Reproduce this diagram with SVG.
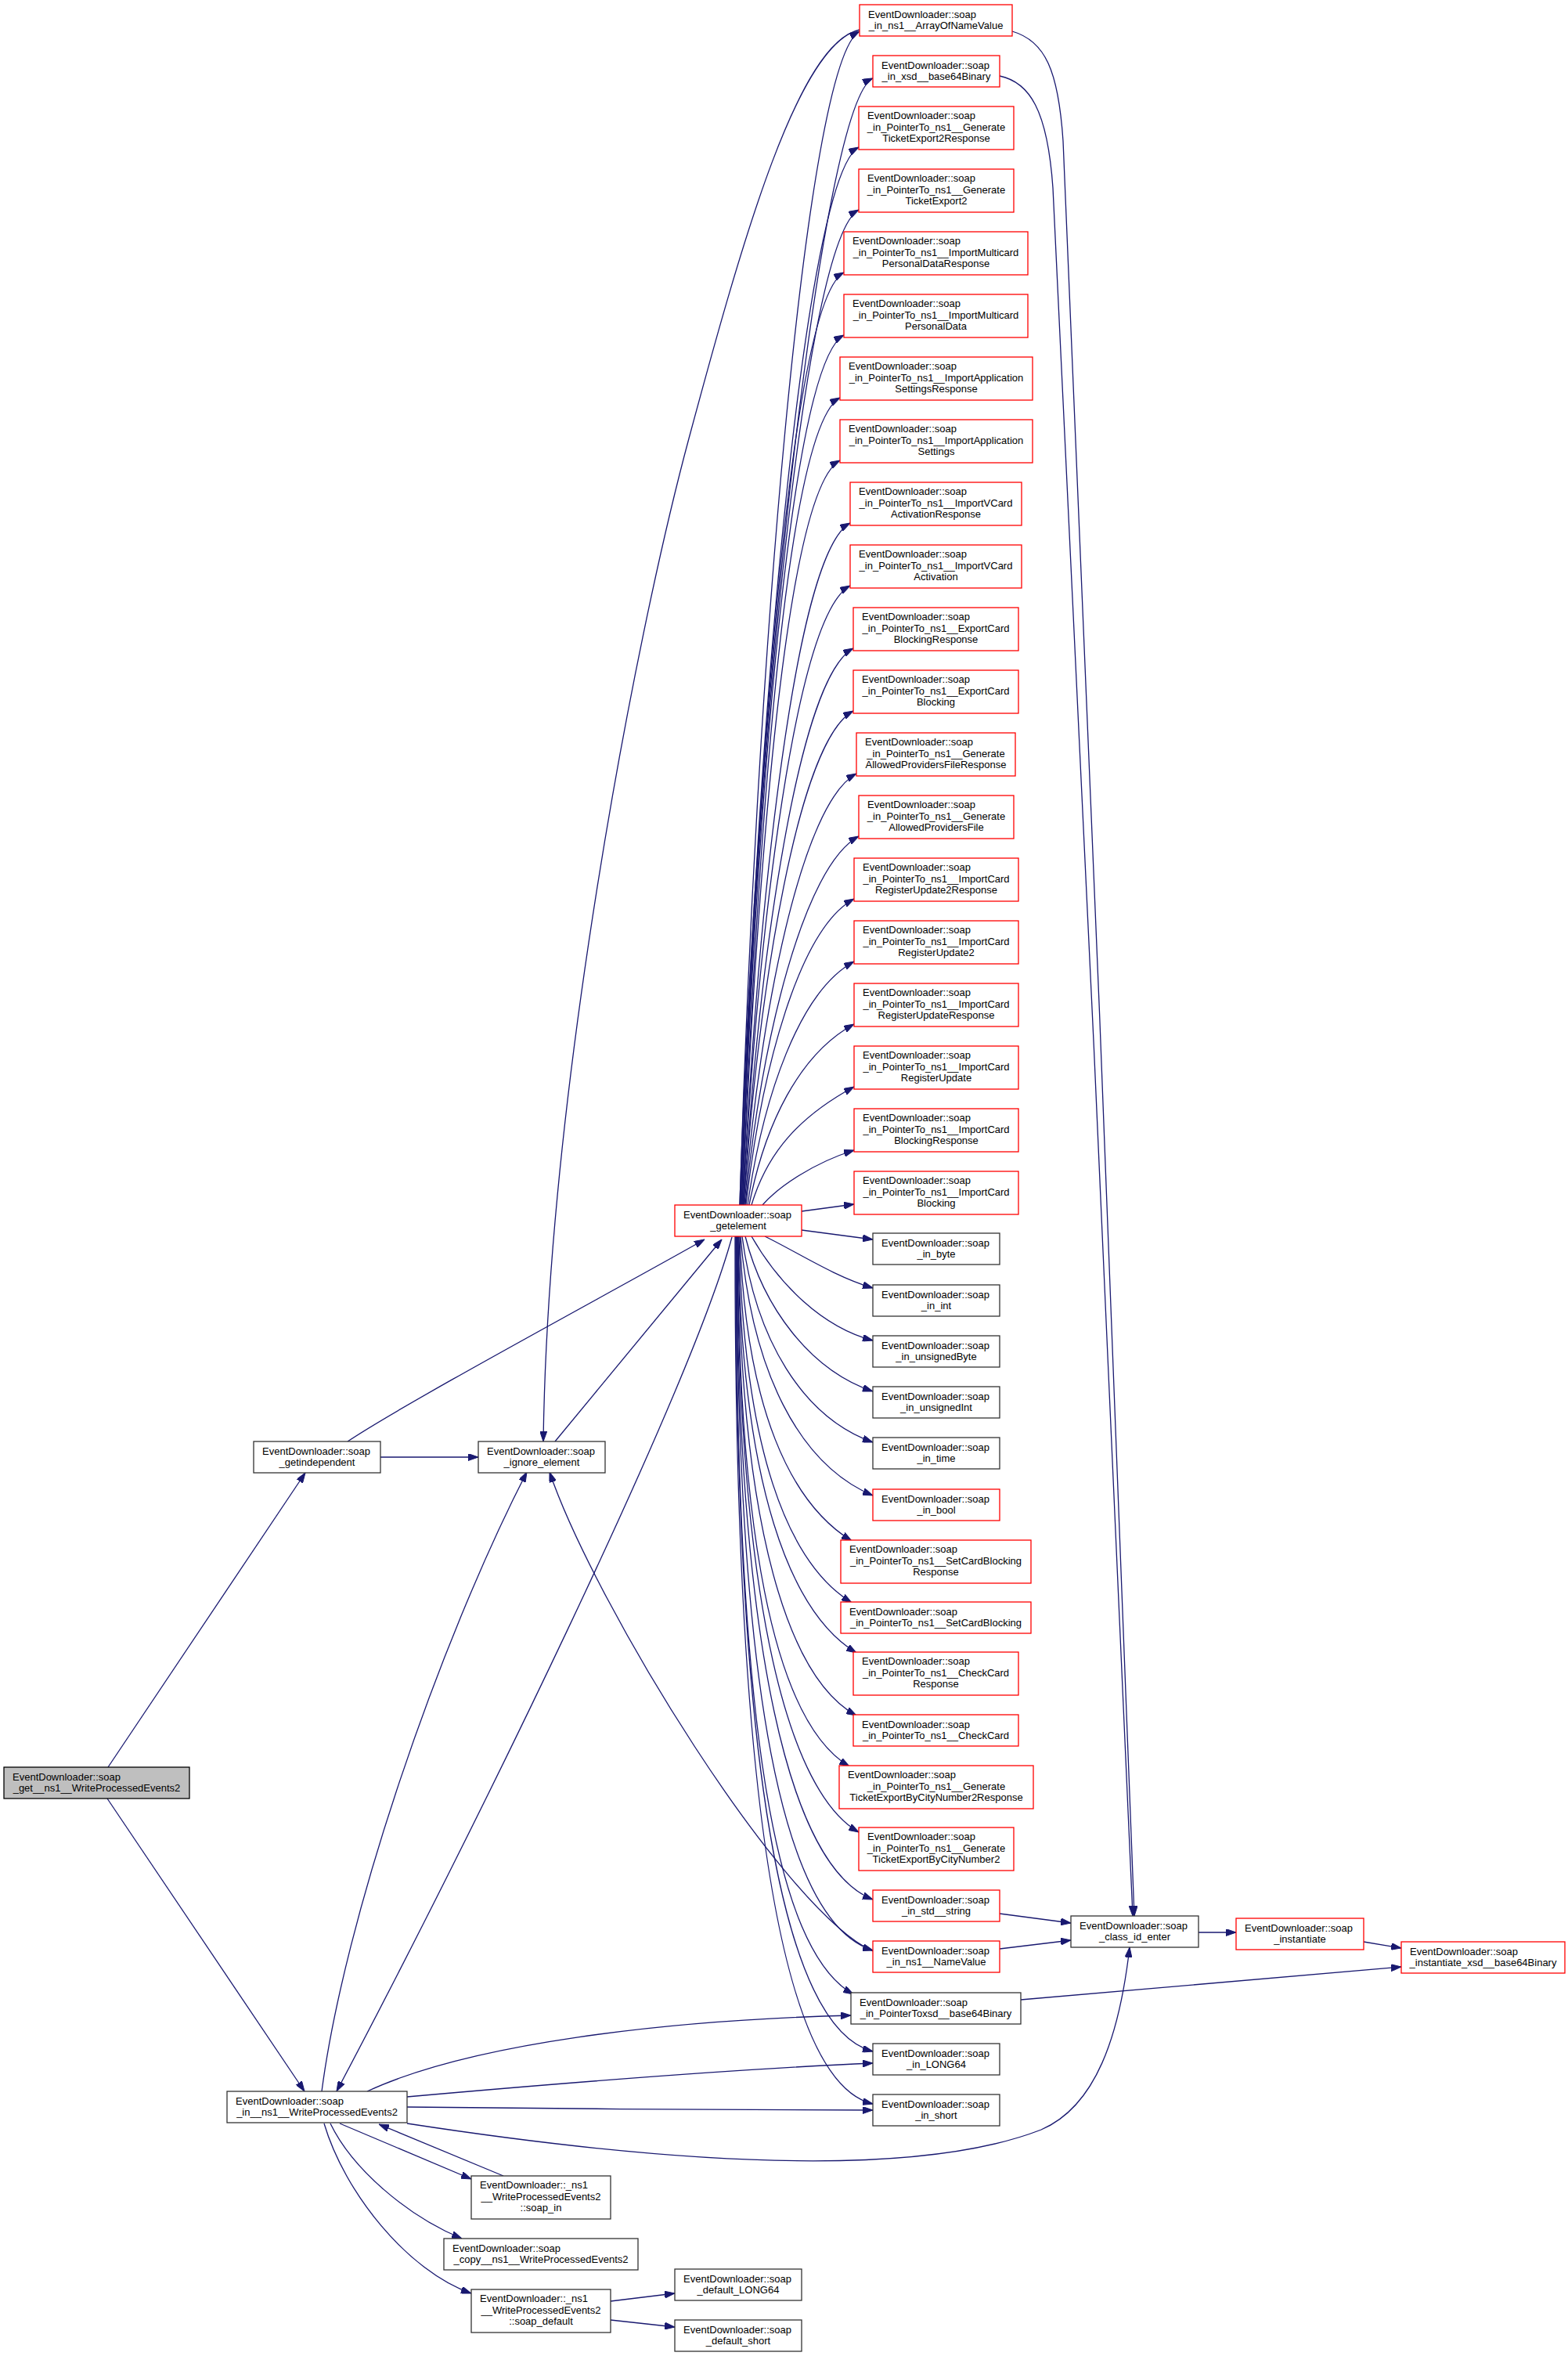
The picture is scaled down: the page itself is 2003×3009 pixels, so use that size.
<svg xmlns="http://www.w3.org/2000/svg" width="2003" height="3009" viewBox="0 0 2003 3009">
<defs>
<marker id="ah" viewBox="0 0 13 9" refX="13" refY="4.5" markerWidth="13" markerHeight="9" orient="auto" markerUnits="userSpaceOnUse"><path d="M0,0 L13,4.5 L0,9 z" fill="#191970" stroke="#191970" stroke-width="1"/></marker>
</defs>
<style>
.e{fill:none;stroke:#191970;stroke-width:1.3;marker-end:url(#ah)}
.n{fill:#fff;stroke:#333;stroke-width:1.3}
.r{fill:#fff;stroke:#f00;stroke-width:1.3}
.root{fill:#bfbfbf;stroke:#000;stroke-width:1.3}
text{font-family:"Liberation Sans",Arial,Helvetica,sans-serif;font-size:13px;fill:#000}
.m{text-anchor:middle}
</style>
<rect width="2003" height="3009" fill="#fff"/>
<g id="edges">
<path class="e" d="M138,2257 L390,1881"/>
<path class="e" d="M137,2297 L389,2671"/>
<path class="e" d="M486,1861 L611,1861"/>
<path class="e" d="M444,1841 C520,1790 800,1640 900,1583"/>
<path class="e" d="M709,1841 L922,1583"/>
<path class="e" d="M1098,38 C1020,55 950,300 880,560 C810,820 700,1400 694,1841"/>
<path class="e" d="M1115,2492 C1000,2440 760,2050 702,1880"/>
<path class="e" d="M411,2671 C440,2450 560,2100 673,1880"/>
<path class="e" d="M935,1580 C880,1780 600,2350 430,2671"/>
<path class="e" d="M1293,40 C1335,52 1352,90 1358,180 C1375,600 1440,2100 1449,2447"/>
<path class="e" d="M1277,97 C1315,105 1338,140 1345,240 C1362,620 1436,2100 1447,2447"/>
<path class="e" d="M945,1539 C965,867 1028,78 1098,40"/>
<path class="e" d="M945,1539 C965,896 1050,130 1115,100"/>
<path class="e" d="M946,1539 C966,932 1027,226 1097,188"/>
<path class="e" d="M946,1539 C966,968 1027,306 1097,268"/>
<path class="e" d="M947,1539 C967,1004 1008,386 1078,348"/>
<path class="e" d="M947,1539 C967,1040 1008,466 1078,428"/>
<path class="e" d="M948,1539 C968,1076 1003,546 1073,508"/>
<path class="e" d="M948,1539 C968,1112 1003,626 1073,588"/>
<path class="e" d="M949,1539 C969,1148 1016,706 1086,668"/>
<path class="e" d="M949,1539 C969,1184 1016,786 1086,748"/>
<path class="e" d="M950,1539 C970,1220 1020,866 1090,828"/>
<path class="e" d="M950,1539 C970,1256 1020,946 1090,908"/>
<path class="e" d="M951,1539 C971,1292 1024,1026 1094,988"/>
<path class="e" d="M952,1539 C972,1328 1027,1106 1097,1068"/>
<path class="e" d="M953,1539 C973,1364 1021,1186 1091,1148"/>
<path class="e" d="M955,1539 C975,1400 1021,1266 1091,1228"/>
<path class="e" d="M957,1539 C977,1436 1021,1346 1091,1308"/>
<path class="e" d="M960,1539 C980,1472 1021,1426 1091,1388"/>
<path class="e" d="M974,1539 C995,1515 1040,1485 1091,1469"/>
<path class="e" d="M1024,1547 L1091,1538"/>
<path class="e" d="M1024,1571 L1115,1583"/>
<path class="e" d="M977,1579 C1020,1600 1065,1630 1115,1645"/>
<path class="e" d="M960,1579 C995,1640 1050,1695 1115,1712"/>
<path class="e" d="M952,1579 C975,1670 1035,1750 1115,1777"/>
<path class="e" d="M948,1579 C965,1710 1025,1810 1115,1842"/>
<path class="e" d="M946,1579 C960,1750 1020,1870 1115,1910"/>
<path class="e" d="M945,1579 C953,1800 1010,1920 1088,1968"/>
<path class="e" d="M944,1579 C950,1850 1005,1995 1088,2047"/>
<path class="e" d="M943,1579 C947,1900 1010,2060 1094,2111"/>
<path class="e" d="M943,1579 C945,1960 1010,2145 1094,2191"/>
<path class="e" d="M942,1579 C944,2010 1000,2205 1085,2256"/>
<path class="e" d="M942,1579 C943,2060 1010,2290 1097,2340"/>
<path class="e" d="M941,1579 C942,2110 1010,2385 1115,2426"/>
<path class="e" d="M941,1579 C941,2160 1000,2455 1115,2491"/>
<path class="e" d="M940,1579 C940,2210 990,2490 1090,2547"/>
<path class="e" d="M940,1579 C939,2260 1000,2590 1115,2620"/>
<path class="e" d="M939,1579 C938,2310 1000,2660 1115,2687"/>
<path class="e" d="M1277,2444 L1368,2456"/>
<path class="e" d="M1277,2489 L1368,2478"/>
<path class="e" d="M1304,2554 L1790,2512"/>
<path class="e" d="M1531,2468 L1579,2468"/>
<path class="e" d="M1742,2480 L1790,2488"/>
<path class="e" d="M469,2671 C600,2610 850,2580 1087,2574"/>
<path class="e" d="M520,2678 C700,2662 950,2642 1115,2635"/>
<path class="e" d="M520,2691 C700,2693 950,2695 1115,2695"/>
<path class="e" d="M520,2712 C800,2755 1150,2790 1330,2720 C1400,2690 1430,2600 1443,2487"/>
<path class="e" d="M434,2712 L602,2783"/>
<path class="e" d="M643,2779 L484,2713"/>
<path class="e" d="M422,2712 C450,2770 520,2830 590,2859"/>
<path class="e" d="M414,2712 C440,2800 520,2900 602,2929"/>
<path class="e" d="M780,2939 L862,2929"/>
<path class="e" d="M780,2963 L862,2972"/>
</g>
<g id="node-get-ns1-WriteProcessedEvents2"><rect class="root" x="5" y="2257" width="237" height="40"/><text x="16" y="2273.5">EventDownloader::soap</text><text class="m" x="123.5" y="2288">_get__ns1__WriteProcessedEvents2</text></g>
<g id="node-getindependent"><rect class="n" x="324" y="1841" width="162" height="40"/><text x="335" y="1857.5">EventDownloader::soap</text><text class="m" x="405" y="1872">_getindependent</text></g>
<g id="node-ignore-element"><rect class="n" x="611" y="1841" width="162" height="40"/><text x="622" y="1857.5">EventDownloader::soap</text><text class="m" x="692" y="1872">_ignore_element</text></g>
<g id="node-getelement"><rect class="r" x="862" y="1539" width="162" height="40"/><text x="873" y="1555.5">EventDownloader::soap</text><text class="m" x="943" y="1570">_getelement</text></g>
<g id="node-in-ns1-WriteProcessedEvents2"><rect class="n" x="290" y="2671" width="230" height="40"/><text x="301" y="2687.5">EventDownloader::soap</text><text class="m" x="405" y="2702">_in__ns1__WriteProcessedEvents2</text></g>
<g id="node-ns1-soap-in"><rect class="n" x="602" y="2779" width="178" height="55"/><text x="613" y="2795">EventDownloader::_ns1</text><text class="m" x="691" y="2809.5">__WriteProcessedEvents2</text><text class="m" x="691" y="2824">::soap_in</text></g>
<g id="node-soap-copy"><rect class="n" x="567" y="2859" width="248" height="40"/><text x="578" y="2875.5">EventDownloader::soap</text><text class="m" x="691" y="2890">_copy__ns1__WriteProcessedEvents2</text></g>
<g id="node-ns1-soap-default"><rect class="n" x="602" y="2924" width="178" height="55"/><text x="613" y="2940">EventDownloader::_ns1</text><text class="m" x="691" y="2954.5">__WriteProcessedEvents2</text><text class="m" x="691" y="2969">::soap_default</text></g>
<g id="node-default-LONG64"><rect class="n" x="862" y="2898" width="162" height="40"/><text x="873" y="2914.5">EventDownloader::soap</text><text class="m" x="943" y="2929">_default_LONG64</text></g>
<g id="node-default-short"><rect class="n" x="862" y="2963" width="162" height="40"/><text x="873" y="2979.5">EventDownloader::soap</text><text class="m" x="943" y="2994">_default_short</text></g>
<g id="node-class-id-enter"><rect class="n" x="1368" y="2447" width="163" height="40"/><text x="1379" y="2463.5">EventDownloader::soap</text><text class="m" x="1449.5" y="2478">_class_id_enter</text></g>
<g id="node-instantiate"><rect class="r" x="1579" y="2450" width="163" height="40"/><text x="1590" y="2466.5">EventDownloader::soap</text><text class="m" x="1660.5" y="2481">_instantiate</text></g>
<g id="node-instantiate-xsd-base64Binary"><rect class="r" x="1790" y="2480" width="209" height="40"/><text x="1801" y="2496.5">EventDownloader::soap</text><text class="m" x="1894.5" y="2511">_instantiate_xsd__base64Binary</text></g>
<g id="node-c1"><rect class="r" x="1098" y="6" width="195" height="40"/><text x="1109" y="22.5">EventDownloader::soap</text><text class="m" x="1195.5" y="37">_in_ns1__ArrayOfNameValue</text></g>
<g id="node-c2"><rect class="r" x="1115" y="71" width="162" height="40"/><text x="1126" y="87.5">EventDownloader::soap</text><text class="m" x="1196" y="102">_in_xsd__base64Binary</text></g>
<g id="node-c3"><rect class="r" x="1097" y="136" width="198" height="55"/><text x="1108" y="152">EventDownloader::soap</text><text class="m" x="1196" y="166.5">_in_PointerTo_ns1__Generate</text><text class="m" x="1196" y="181">TicketExport2Response</text></g>
<g id="node-c4"><rect class="r" x="1097" y="216" width="198" height="55"/><text x="1108" y="232">EventDownloader::soap</text><text class="m" x="1196" y="246.5">_in_PointerTo_ns1__Generate</text><text class="m" x="1196" y="261">TicketExport2</text></g>
<g id="node-c5"><rect class="r" x="1078" y="296" width="235" height="55"/><text x="1089" y="312">EventDownloader::soap</text><text class="m" x="1195.5" y="326.5">_in_PointerTo_ns1__ImportMulticard</text><text class="m" x="1195.5" y="341">PersonalDataResponse</text></g>
<g id="node-c6"><rect class="r" x="1078" y="376" width="235" height="55"/><text x="1089" y="392">EventDownloader::soap</text><text class="m" x="1195.5" y="406.5">_in_PointerTo_ns1__ImportMulticard</text><text class="m" x="1195.5" y="421">PersonalData</text></g>
<g id="node-c7"><rect class="r" x="1073" y="456" width="246" height="55"/><text x="1084" y="472">EventDownloader::soap</text><text class="m" x="1196" y="486.5">_in_PointerTo_ns1__ImportApplication</text><text class="m" x="1196" y="501">SettingsResponse</text></g>
<g id="node-c8"><rect class="r" x="1073" y="536" width="246" height="55"/><text x="1084" y="552">EventDownloader::soap</text><text class="m" x="1196" y="566.5">_in_PointerTo_ns1__ImportApplication</text><text class="m" x="1196" y="581">Settings</text></g>
<g id="node-c9"><rect class="r" x="1086" y="616" width="219" height="55"/><text x="1097" y="632">EventDownloader::soap</text><text class="m" x="1195.5" y="646.5">_in_PointerTo_ns1__ImportVCard</text><text class="m" x="1195.5" y="661">ActivationResponse</text></g>
<g id="node-c10"><rect class="r" x="1086" y="696" width="219" height="55"/><text x="1097" y="712">EventDownloader::soap</text><text class="m" x="1195.5" y="726.5">_in_PointerTo_ns1__ImportVCard</text><text class="m" x="1195.5" y="741">Activation</text></g>
<g id="node-c11"><rect class="r" x="1090" y="776" width="211" height="55"/><text x="1101" y="792">EventDownloader::soap</text><text class="m" x="1195.5" y="806.5">_in_PointerTo_ns1__ExportCard</text><text class="m" x="1195.5" y="821">BlockingResponse</text></g>
<g id="node-c12"><rect class="r" x="1090" y="856" width="211" height="55"/><text x="1101" y="872">EventDownloader::soap</text><text class="m" x="1195.5" y="886.5">_in_PointerTo_ns1__ExportCard</text><text class="m" x="1195.5" y="901">Blocking</text></g>
<g id="node-c13"><rect class="r" x="1094" y="936" width="203" height="55"/><text x="1105" y="952">EventDownloader::soap</text><text class="m" x="1195.5" y="966.5">_in_PointerTo_ns1__Generate</text><text class="m" x="1195.5" y="981">AllowedProvidersFileResponse</text></g>
<g id="node-c14"><rect class="r" x="1097" y="1016" width="198" height="55"/><text x="1108" y="1032">EventDownloader::soap</text><text class="m" x="1196" y="1046.5">_in_PointerTo_ns1__Generate</text><text class="m" x="1196" y="1061">AllowedProvidersFile</text></g>
<g id="node-c15"><rect class="r" x="1091" y="1096" width="210" height="55"/><text x="1102" y="1112">EventDownloader::soap</text><text class="m" x="1196" y="1126.5">_in_PointerTo_ns1__ImportCard</text><text class="m" x="1196" y="1141">RegisterUpdate2Response</text></g>
<g id="node-c16"><rect class="r" x="1091" y="1176" width="210" height="55"/><text x="1102" y="1192">EventDownloader::soap</text><text class="m" x="1196" y="1206.5">_in_PointerTo_ns1__ImportCard</text><text class="m" x="1196" y="1221">RegisterUpdate2</text></g>
<g id="node-c17"><rect class="r" x="1091" y="1256" width="210" height="55"/><text x="1102" y="1272">EventDownloader::soap</text><text class="m" x="1196" y="1286.5">_in_PointerTo_ns1__ImportCard</text><text class="m" x="1196" y="1301">RegisterUpdateResponse</text></g>
<g id="node-c18"><rect class="r" x="1091" y="1336" width="210" height="55"/><text x="1102" y="1352">EventDownloader::soap</text><text class="m" x="1196" y="1366.5">_in_PointerTo_ns1__ImportCard</text><text class="m" x="1196" y="1381">RegisterUpdate</text></g>
<g id="node-c19"><rect class="r" x="1091" y="1416" width="210" height="55"/><text x="1102" y="1432">EventDownloader::soap</text><text class="m" x="1196" y="1446.5">_in_PointerTo_ns1__ImportCard</text><text class="m" x="1196" y="1461">BlockingResponse</text></g>
<g id="node-c20"><rect class="r" x="1091" y="1496" width="210" height="55"/><text x="1102" y="1512">EventDownloader::soap</text><text class="m" x="1196" y="1526.5">_in_PointerTo_ns1__ImportCard</text><text class="m" x="1196" y="1541">Blocking</text></g>
<g id="node-c21"><rect class="n" x="1115" y="1575" width="162" height="40"/><text x="1126" y="1591.5">EventDownloader::soap</text><text class="m" x="1196" y="1606">_in_byte</text></g>
<g id="node-c22"><rect class="n" x="1115" y="1641" width="162" height="40"/><text x="1126" y="1657.5">EventDownloader::soap</text><text class="m" x="1196" y="1672">_in_int</text></g>
<g id="node-c23"><rect class="n" x="1115" y="1706" width="162" height="40"/><text x="1126" y="1722.5">EventDownloader::soap</text><text class="m" x="1196" y="1737">_in_unsignedByte</text></g>
<g id="node-c24"><rect class="n" x="1115" y="1771" width="162" height="40"/><text x="1126" y="1787.5">EventDownloader::soap</text><text class="m" x="1196" y="1802">_in_unsignedInt</text></g>
<g id="node-c25"><rect class="n" x="1115" y="1836" width="162" height="40"/><text x="1126" y="1852.5">EventDownloader::soap</text><text class="m" x="1196" y="1867">_in_time</text></g>
<g id="node-c26"><rect class="r" x="1115" y="1902" width="162" height="40"/><text x="1126" y="1918.5">EventDownloader::soap</text><text class="m" x="1196" y="1933">_in_bool</text></g>
<g id="node-c27"><rect class="r" x="1074" y="1967" width="243" height="55"/><text x="1085" y="1983">EventDownloader::soap</text><text class="m" x="1195.5" y="1997.5">_in_PointerTo_ns1__SetCardBlocking</text><text class="m" x="1195.5" y="2012">Response</text></g>
<g id="node-c28"><rect class="r" x="1074" y="2046" width="243" height="40"/><text x="1085" y="2062.5">EventDownloader::soap</text><text class="m" x="1195.5" y="2077">_in_PointerTo_ns1__SetCardBlocking</text></g>
<g id="node-c29"><rect class="r" x="1090" y="2110" width="211" height="55"/><text x="1101" y="2126">EventDownloader::soap</text><text class="m" x="1195.5" y="2140.5">_in_PointerTo_ns1__CheckCard</text><text class="m" x="1195.5" y="2155">Response</text></g>
<g id="node-c30"><rect class="r" x="1090" y="2190" width="211" height="40"/><text x="1101" y="2206.5">EventDownloader::soap</text><text class="m" x="1195.5" y="2221">_in_PointerTo_ns1__CheckCard</text></g>
<g id="node-c31"><rect class="r" x="1072" y="2255" width="248" height="55"/><text x="1083" y="2271">EventDownloader::soap</text><text class="m" x="1196" y="2285.5">_in_PointerTo_ns1__Generate</text><text class="m" x="1196" y="2300">TicketExportByCityNumber2Response</text></g>
<g id="node-c32"><rect class="r" x="1097" y="2334" width="198" height="55"/><text x="1108" y="2350">EventDownloader::soap</text><text class="m" x="1196" y="2364.5">_in_PointerTo_ns1__Generate</text><text class="m" x="1196" y="2379">TicketExportByCityNumber2</text></g>
<g id="node-c33"><rect class="r" x="1115" y="2414" width="162" height="40"/><text x="1126" y="2430.5">EventDownloader::soap</text><text class="m" x="1196" y="2445">_in_std__string</text></g>
<g id="node-c34"><rect class="r" x="1115" y="2479" width="162" height="40"/><text x="1126" y="2495.5">EventDownloader::soap</text><text class="m" x="1196" y="2510">_in_ns1__NameValue</text></g>
<g id="node-c35"><rect class="n" x="1087" y="2545" width="217" height="40"/><text x="1098" y="2561.5">EventDownloader::soap</text><text class="m" x="1195.5" y="2576">_in_PointerToxsd__base64Binary</text></g>
<g id="node-c36"><rect class="n" x="1115" y="2610" width="162" height="40"/><text x="1126" y="2626.5">EventDownloader::soap</text><text class="m" x="1196" y="2641">_in_LONG64</text></g>
<g id="node-c37"><rect class="n" x="1115" y="2675" width="162" height="40"/><text x="1126" y="2691.5">EventDownloader::soap</text><text class="m" x="1196" y="2706">_in_short</text></g>
</svg>
